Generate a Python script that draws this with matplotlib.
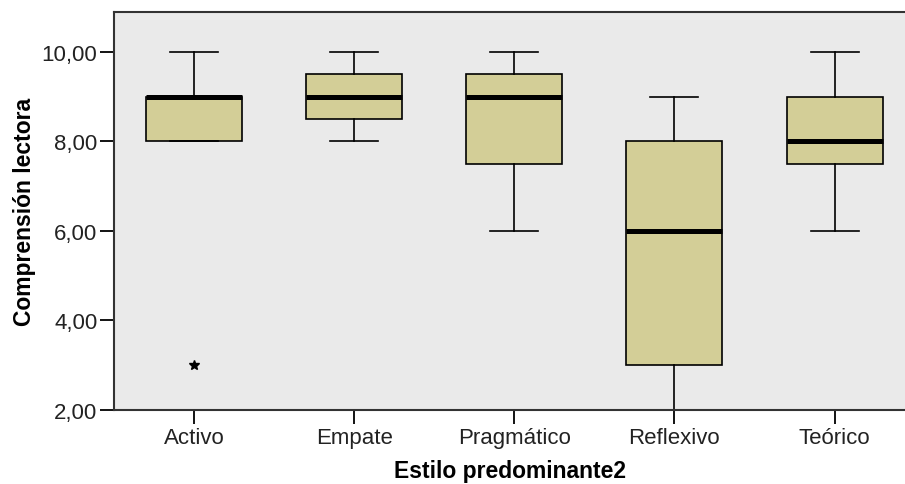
import matplotlib
matplotlib.use('Agg')
import matplotlib.pyplot as plt

plt.rcParams['font.family'] = ['Liberation Sans', 'DejaVu Sans']

grupos = ['Activo', 'Empate', 'Pragmático', 'Reflexivo', 'Teórico']
whislo = [8.0, 8.0, 6.0, 2.0, 6.0]
q1 = [8.0, 8.5, 7.5, 3.0, 7.5]
mediana = [9.0, 9.0, 9.0, 6.0, 8.0]
q3 = [9.0, 9.5, 9.5, 8.0, 9.0]
whishi = [10.0, 10.0, 10.0, 9.0, 10.0]
atipicos = [[3.0], [], [], [], []]

stats = []
for i in range(len(grupos)):
    stats.append({'label': grupos[i], 'whislo': whislo[i], 'q1': q1[i],
                  'med': mediana[i], 'q3': q3[i], 'whishi': whishi[i],
                  'fliers': atipicos[i]})

fig = plt.figure(figsize=(9.05, 4.85), dpi=100)
ax = fig.add_axes([0.126, 0.1526, 0.874, 0.8206])
ax.set_facecolor('#EAEAEA')

ax.bxp(stats, positions=range(len(grupos)), widths=0.6, patch_artist=True,
       boxprops=dict(facecolor='#D3CE97', edgecolor='black', linewidth=1.2),
       medianprops=dict(color='black', linewidth=3.6),
       whiskerprops=dict(color='black', linewidth=1.2),
       capprops=dict(color='black', linewidth=1.2),
       capwidths=0.3,
       flierprops=dict(marker='*', markerfacecolor='black', markeredgecolor='black', markersize=7))

ax.set_xlim(-0.5, 4.44)
ax.set_ylim(2.0, 10.894)
ax.set_yticks([2, 4, 6, 8, 10])
ax.set_yticklabels(['2,00', '4,00', '6,00', '8,00', '10,00'])
ax.set_xticks(range(len(grupos)))
ax.set_xticklabels(grupos)
ax.tick_params(axis='both', direction='out', length=10, width=1.3, labelsize=16,
               colors='black', labelcolor='#222222', pad=2)

for s in ['left', 'bottom', 'top']:
    ax.spines[s].set_linewidth(1.5)
    ax.spines[s].set_color('#333333')
ax.spines['right'].set_visible(False)

ax.set_ylabel('Comprensión lectora', fontsize=16.5, fontweight='bold', labelpad=4)
ax.set_xlabel('Estilo predominante2', fontsize=16.5, fontweight='bold', labelpad=8)

fig.savefig('out.png', dpi=100)
